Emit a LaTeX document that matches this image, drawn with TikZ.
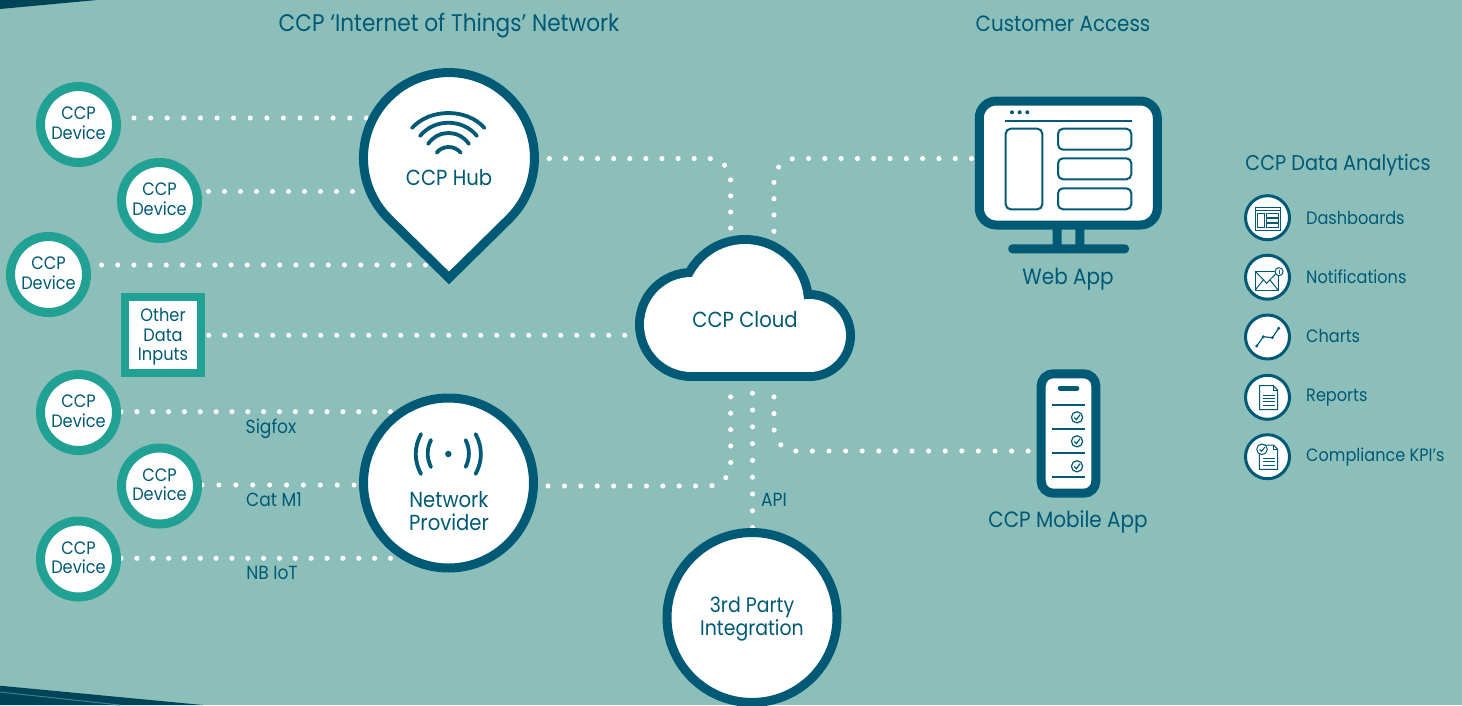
\documentclass[tikz,border=0pt]{standalone}
\usepackage{fontspec}
\setmainfont[FakeStretch=0.9]{Poppins}
\usetikzlibrary{backgrounds}
\definecolor{bgc}{RGB}{140,190,186}
\definecolor{deep}{RGB}{0,90,118}
\definecolor{tealc}{RGB}{33,160,148}
\tikzset{
  dots/.style 2 args={draw=white,line width=5.1pt,line cap=round,dash pattern=on 0pt off #1pt,dash phase=#2pt},
  device/.style={circle,draw=tealc,fill=white,line width=9pt,minimum size=76pt,inner sep=0pt,align=center,text=deep,text depth=2.5pt,font=\fontsize{18}{19.6}\selectfont},
  bigring/.style={circle,draw=deep,fill=white,line width=9pt,minimum size=170pt,inner sep=0pt},
  lab/.style={text=deep,inner sep=0pt,align=center},
  small/.style={font=\fontsize{19}{20}\selectfont},
  mid/.style={font=\fontsize{21.8}{22.5}\selectfont},
  side/.style={font=\fontsize{17.9}{20}\selectfont,anchor=west},
  ring/.style={circle,draw=deep,fill=white,line width=3pt,minimum size=44pt,inner sep=0pt},
  thin/.style={draw=deep,line width=2pt},
  icon/.style={draw=deep,line width=1pt},
  iconw/.style={draw=deep,fill=white,line width=1pt},
  wave/.style={draw=deep,line width=3.8pt,line cap=round},
}
\begin{document}
\begin{tikzpicture}[x=1pt,y=1pt,yscale=-1]
\useasboundingbox (0,0) rectangle (1462,705);
\clip (0,0) rectangle (1462,705);

% nodes
\node[device] (dev1) at (78.5,124.5) {CCP\\Device};
\node[device] (dev2) at (159.5,200.5) {CCP\\Device};
\node[device] (dev3) at (48.5,274.5) {CCP\\Device};
\node[device] (dev4) at (78.5,412.5) {CCP\\Device};
\node[device] (dev5) at (159.5,486) {CCP\\Device};
\node[device] (dev6) at (78.5,559) {CCP\\Device};
\node[rectangle,draw=tealc,fill=white,line width=8pt,minimum width=76pt,minimum height=76pt,inner sep=0pt,align=center,text=deep,text depth=1pt,font=\fontsize{18}{19.5}\selectfont] (other) at (163,335) {Other\\Data\\Inputs};

% hub pin
\filldraw[draw=deep,fill=white,line width=9pt,miter limit=10] (449,278) -- (388.5,218.5) arc[start angle=135,end angle=405,radius=85.5] -- cycle;
\node[circle,minimum size=180pt,inner sep=0pt] (hub) at (449,158) {};
\node[lab,mid] (hublabel) at (449,178) {CCP Hub};
\draw[wave] (412,128) .. controls (430,108) and (467,108) .. (484.5,128);
\draw[wave] (420,136) .. controls (434.5,118.3) and (462.5,118.3) .. (477,136);
\draw[wave] (428,144) .. controls (438.5,129.3) and (458.5,129.3) .. (469,144);
\draw[wave] (436.7,152.7) .. controls (442.5,145.1) and (454.5,145.1) .. (460.7,152.7);

% network provider
\node[bigring] (net) at (448.5,483) {};
\node[lab,mid] (netlabel) at (449,511) {Network\\Provider};
\fill[deep] (448.3,454) circle[radius=3.2];
\draw[wave] (421,434) .. controls (414,447) and (414,461) .. (421,474);
\draw[wave] (431,440) .. controls (426.6,449) and (426.6,458) .. (431,467);
\draw[wave] (475.6,434) .. controls (482.6,447) and (482.6,461) .. (475.6,474);
\draw[wave] (465.6,440) .. controls (470,449) and (470,458) .. (465.6,467);

% third party
\node[bigring] (third) at (752,617.5) {};
\node[lab,mid,font=\fontsize{21}{23}\selectfont] (thirdlabel) at (752,619) {3rd Party\\Integration};

% cloud
\fill[deep] (691.5,324.5) circle[radius=56.5] (745,303) circle[radius=68] (809.5,335.5) circle[radius=45.5];
\fill[deep] (691.5,320) rectangle (809.5,381);
\fill[white] (691.5,324.5) circle[radius=47.5] (745,303) circle[radius=59] (809.5,335.5) circle[radius=36.5];
\fill[white] (691.5,320) rectangle (809.5,372);
\node[minimum width=220pt,minimum height=146pt,inner sep=0pt] (cloud) at (745,308) {};
\node[lab,mid] (cloudlabel) at (745,320) {CCP Cloud};

% web app
\node[rectangle,rounded corners=17pt,draw=deep,fill=white,line width=9pt,minimum width=178pt,minimum height=124pt,inner sep=0pt] (web) at (1068.3,163) {};
\fill[deep] (1052.7,229) rectangle (1061.7,250) (1075.3,229) rectangle (1084.3,250);
\fill[deep,rounded corners=4pt] (1008.3,244.3) rectangle (1129,253.3);
\fill[deep] (1012,112.3) circle[radius=2] (1019.7,112.3) circle[radius=2] (1027.3,112.3) circle[radius=2];
\draw[thin] (1005.3,121) -- (1131.7,121);
\draw[thin,rounded corners=5pt] (1005.7,128.7) rectangle (1042.3,209.3);
\draw[thin,rounded corners=5pt] (1058,128.7) rectangle (1131.3,149.7);
\draw[thin,rounded corners=5pt] (1058,158.3) rectangle (1131.3,179.3);
\draw[thin,rounded corners=5pt] (1058,188.3) rectangle (1131.3,209.3);
\node[lab,font=\fontsize{22.2}{24}\selectfont] (weblabel) at (1068,279) {Web App};

% mobile app
\node[rectangle,rounded corners=12pt,draw=deep,fill=white,line width=9pt,minimum width=54.6pt,minimum height=119.4pt,inner sep=0pt] (mobile) at (1068.5,433.5) {};
\draw[deep,line width=4.5pt,line cap=round] (1060,388.3) -- (1077,388.3);
\foreach \yy in {405.3,429.3,453.3,477.3} \draw[thin] (1052.3,\yy) -- (1084.7,\yy);
\foreach \yy in {417.3,441.3,466.3} {
  \draw[deep,line width=1.2pt] (1077,\yy) circle[radius=5.6];
  \draw[deep,line width=1.2pt] (1074.2,\yy) -- (1076.4,\yy+2.4) -- (1080,\yy-2.6);
}
\node[lab,font=\fontsize{22.2}{24}\selectfont] (mobilelabel) at (1068,522) {CCP Mobile App};

% titles and labels
\node[lab,font=\fontsize{24}{26}\selectfont] (title1) at (449,26) {CCP ‘Internet of Things’ Network};
\node[lab,font=\fontsize{22.1}{24}\selectfont] (title2) at (1063,24) {Customer Access};
\node[lab,font=\fontsize{21.4}{24}\selectfont] (title3) at (1338,165) {CCP Data Analytics};
\node[lab,small] (sig) at (271,429) {Sigfox};
\node[lab,small] (cat) at (274,499.5) {Cat M1};
\node[lab,small] (nb) at (272,572.5) {NB IoT};
\node[lab,small] (api) at (774,499.5) {API};

% analytics list
\node[ring] (r1) at (1267.5,217.7) {};
\node[ring] (r2) at (1267.5,277.2) {};
\node[ring] (r3) at (1267.5,337) {};
\node[ring] (r4) at (1267.5,397.3) {};
\node[ring] (r5) at (1267.5,456.7) {};
\node[lab,side] (t1) at (1306,218) {Dashboards};
\node[lab,side] (t2) at (1306,277) {Notifications};
\node[lab,side] (t3) at (1306,336) {Charts};
\node[lab,side] (t4) at (1306,398) {Reports};
\node[lab,side] (t5) at (1306,457) {Compliance KPI’s};

% dashboard icon
\draw[icon] (1255,207.3) rectangle (1280.3,230);
\draw[icon,line width=.7pt] (1255,210.7) -- (1280.3,210.7);
\draw[icon] (1257.3,213) rectangle (1264.3,227.3);
\draw[icon] (1266.7,213) rectangle (1278.7,217.3);
\draw[icon] (1266.7,218.3) rectangle (1278.7,222.3);
\draw[icon] (1266.7,223.3) rectangle (1278.7,227.3);
% envelope icon
\draw[icon] (1255,271) rectangle (1278.3,290.3);
\draw[icon] (1255,271) -- (1266.7,283.3) -- (1278.3,271);
\draw[icon] (1255,290.3) -- (1263.3,280) (1278.3,290.3) -- (1270,280);
\filldraw[iconw] (1279,271.7) circle[radius=4];
\draw[icon] (1279,269.5) -- (1279,272.7) (1279,273.4) -- (1279,274.4);
% chart icon
\draw[icon,line width=1.2pt] (1256.7,346) -- (1263.3,336.7) -- (1272.3,337.7) -- (1278.7,328.3);
\fill[deep] (1256.7,346) circle[radius=1.6] (1263.3,336.7) circle[radius=1.6] (1272.3,337.7) circle[radius=1.6] (1278.7,328.3) circle[radius=1.6];
% report icon
\draw[icon] (1259.7,385.7) -- (1273.3,385.7) -- (1277.7,390) -- (1277.7,409.7) -- (1259.7,409.7) -- cycle;
\draw[icon] (1273.3,385.7) -- (1273.3,390) -- (1277.7,390);
\foreach \yy in {395,398.3,401.7,405} \draw[icon] (1263.3,\yy) -- (1275,\yy);
% compliance icon
\draw[icon] (1259.3,445) -- (1273.3,445) -- (1277.7,449.3) -- (1277.7,469.3) -- (1259.3,469.3) -- cycle;
\draw[icon] (1273.3,445) -- (1273.3,449.3) -- (1277.7,449.3);
\foreach \yy in {458.3,461.7,465} \draw[icon] (1263.3,\yy) -- (1275,\yy);
\filldraw[iconw] (1262,449.3) circle[radius=5.3];
\draw[icon] (1259.6,449.4) -- (1261.5,451.4) -- (1264.8,447.2);

% connectors, behind the nodes
\begin{scope}[on background layer]
\fill[bgc] (0,0) rectangle (1462,705);
\fill[deep!75!black] (0,0) -- (97,0) -- (0,9) -- cycle;
\fill[deep!75!black] (0,685.7) -- (203,705) -- (0,705) -- cycle;
\draw[deep!60!bgc,line width=1pt] (0,692) -- (120,705);
\draw[dots={16.6}{3.6}] (dev1.east |- 0,118) -- (hub.center |- 0,118);
\draw[dots={16}{9.5}] (dev2.east |- 0,191.5) -- (hub.center |- 0,191.5);
\draw[dots={16.2}{5.7}] (dev3.east |- 0,265) -- (hub.south |- 0,265);
\draw[dots={16}{12.3}] (other.east |- 0,335.3) -- (cloud.west |- 0,335.3);
\draw[dots={15.85}{0}] (dev4.east |- 0,411.7) -- (net.center |- 0,411.7);
\draw[dots={16.9}{0}] (dev5.east |- 0,485) -- (net.center |- 0,485);
\draw[dots={15.85}{0}] (dev6.east |- 0,558.3) -- (net.center |- 0,558.3);
\draw[dots={16.1}{6},rounded corners=22pt] (hub.east |- 0,158.5) -| (cloud.north -| 730.7,0);
\draw[dots={16.3}{13},rounded corners=22pt] (web.west |- 0,158.5) -| (cloud.north -| 774,0);
\draw[dots={16.4}{0.8},rounded corners=22pt] (cloud.south -| 730.7,0) |- (net.east |- 0,486);
\draw[dots={16.8}{4.8}] (cloud.south -| 752.5,0) -- (third.north -| 752.5,0);
\draw[dots={16.6}{0.9},rounded corners=22pt] (cloud.south -| 774,0) |- (mobile.west |- 0,451);
\end{scope}
\end{tikzpicture}
\end{document}
